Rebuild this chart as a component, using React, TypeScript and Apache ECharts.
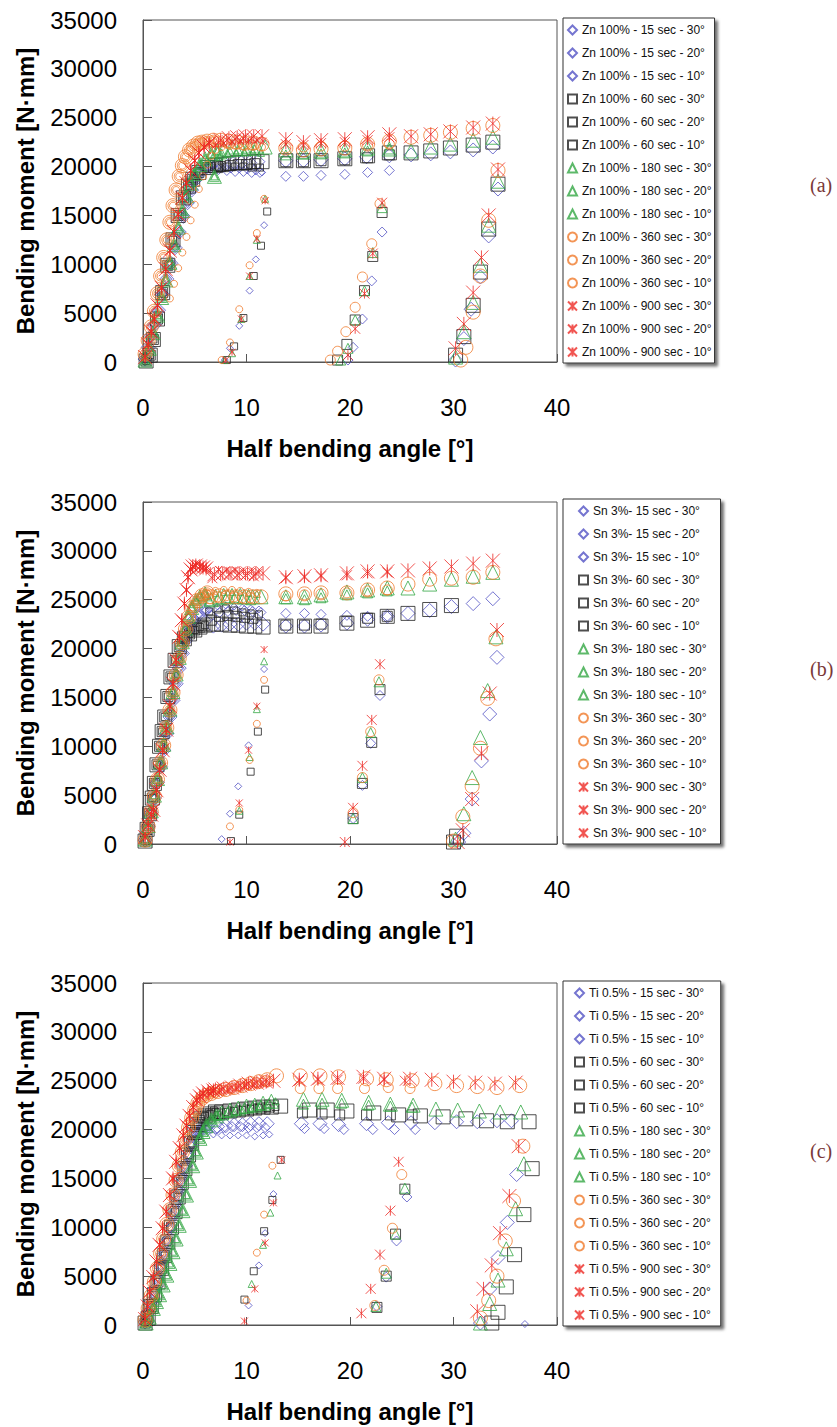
import React, { useEffect, useRef } from "react";
import * as echarts from "echarts";

// ---------- legend labels ----------
const ZN_LABELS = [
  "Zn 100% - 15 sec - 30°", "Zn 100% - 15 sec - 20°", "Zn 100% - 15 sec - 10°",
  "Zn 100% - 60 sec - 30°", "Zn 100% - 60 sec - 20°", "Zn 100% - 60 sec - 10°",
  "Zn 100% - 180 sec - 30°", "Zn 100% - 180 sec - 20°", "Zn 100% - 180 sec - 10°",
  "Zn 100% - 360 sec - 30°", "Zn 100% - 360 sec - 20°", "Zn 100% - 360 sec - 10°",
  "Zn 100% - 900 sec - 30°", "Zn 100% - 900 sec - 20°", "Zn 100% - 900 sec - 10°",
];
const SN_LABELS = [
  "Sn 3%- 15 sec - 30°", "Sn 3%- 15 sec - 20°", "Sn 3%- 15 sec - 10°",
  "Sn 3%- 60 sec - 30°", "Sn 3%- 60 sec - 20°", "Sn 3%- 60 sec - 10°",
  "Sn 3%- 180 sec - 30°", "Sn 3%- 180 sec - 20°", "Sn 3%- 180 sec - 10°",
  "Sn 3%- 360 sec - 30°", "Sn 3%- 360 sec - 20°", "Sn 3%- 360 sec - 10°",
  "Sn 3%- 900 sec - 30°", "Sn 3%- 900 sec - 20°", "Sn 3%- 900 sec - 10°",
];
const TI_LABELS = [
  "Ti 0.5% - 15 sec - 30°", "Ti 0.5% - 15 sec - 20°", "Ti 0.5% - 15 sec - 10°",
  "Ti 0.5% - 60 sec - 30°", "Ti 0.5% - 60 sec - 20°", "Ti 0.5% - 60 sec - 10°",
  "Ti 0.5% - 180 sec - 30°", "Ti 0.5% - 180 sec - 20°", "Ti 0.5% - 180 sec - 10°",
  "Ti 0.5% - 360 sec - 30°", "Ti 0.5% - 360 sec - 20°", "Ti 0.5% - 360 sec - 10°",
  "Ti 0.5% - 900 sec - 30°", "Ti 0.5% - 900 sec - 20°", "Ti 0.5% - 900 sec - 10°",
];

const X_TICKS = [0, 10, 20, 30, 40];
const Y_TICKS = [0, 5000, 10000, 15000, 20000, 25000, 30000, 35000];

// ---------- Panel (a) Zn 100% ----------
const znLoad15 = [[0.2,300],[0.5,1500],[0.8,2700],[1.1,3800],[1.5,5300],[1.9,6900],[2.3,8500],[2.7,10100],[3.1,11700],[3.5,13300],[3.9,14900],[4.3,16300],[4.7,17600],[5.1,18700],[5.5,19400],[6.0,19800],[6.5,20000]];
const znLoad60 = [[0.3,100],[0.7,700],[1.0,2300],[1.4,4400],[1.9,7100],[2.4,9900],[2.9,12500],[3.4,15000],[3.9,16800],[4.4,18000],[4.8,18700],[5.4,19400],[6.2,19900],[7.0,20100]];
const znLoad180 = [[0.2,200],[0.6,1400],[1.0,3000],[1.4,4800],[1.8,6600],[2.2,8400],[2.6,10200],[3.0,12000],[3.4,13800],[3.8,15500],[4.2,17000],[4.6,18300],[5.0,19300],[5.5,20200],[6.0,20800],[6.6,21300],[6.9,19000],[7.2,21600]];
const znLoad360 = [[0.2,800],[0.5,2200],[0.8,3600],[1.1,5200],[1.4,7000],[1.7,8800],[2.0,10700],[2.3,12500],[2.6,14300],[2.9,16000],[3.2,17600],[3.5,19000],[3.8,20100],[4.1,21000],[4.5,21700],[4.9,22100],[5.3,22400],[5.7,22500],[6.2,22600],[6.8,22700]];
const znLoad900 = [[0.2,500],[0.5,1800],[0.8,3100],[1.1,4400],[1.4,5800],[1.8,7600],[2.2,9500],[2.6,11400],[3.0,13300],[3.4,15100],[3.8,16800],[4.2,18300],[4.6,19600],[5.0,20600],[5.4,21400],[5.9,22000],[6.4,22400]];

const zn15_30 = [[7.2,20200],[7.9,20300],[8.7,20300],[9.5,20400],[10.3,20400],[11.1,20500],[13.8,20600],[15.5,20600],[17.2,20700],[19.5,20800],[21.6,21000],[23.8,21100],[25.9,21200],[27.8,21300],[29.7,21500],[31.9,21700],[33.8,22000],[34.3,17700],[33.4,12900],[32.6,8700],[31.7,5400],[31.0,2400],[30.2,200]];
const zn15_20 = [[7.3,19700],[8.1,19600],[8.9,19500],[9.7,19500],[10.5,19400],[11.3,19400],[13.8,19000],[15.5,19000],[17.2,19100],[19.5,19200],[21.7,19400],[23.8,19600],[23.1,13300],[22.1,8300],[21.2,4400],[20.3,1500],[19.8,200]];
const zn15_10 = [[7.0,19800],[7.7,19800],[8.5,19700],[9.3,19700],[10.1,19600],[10.9,19500],[11.5,19400],[11.7,14000],[10.9,10500],[10.3,7300],[9.3,3700],[8.4,1400],[7.9,200]];
const zn60_30 = [[7.6,20200],[8.3,20300],[9.1,20400],[9.9,20400],[10.7,20500],[11.5,20500],[13.8,20600],[15.5,20600],[17.2,20600],[19.5,20800],[21.7,21100],[23.8,21400],[25.9,21400],[27.8,21600],[29.7,21900],[31.9,22200],[33.8,22500],[34.3,18200],[33.4,13600],[32.6,9200],[31.9,5800],[31.0,2600],[30.2,700]];
const zn60_20 = [[7.5,20000],[8.4,20100],[9.2,20200],[10.0,20200],[10.8,20300],[13.8,20500],[15.5,20500],[17.2,20600],[19.5,20700],[21.7,20900],[23.8,21200],[23.1,15300],[22.2,10800],[21.4,7300],[20.5,4300],[19.7,1800],[18.8,200]];
const zn60_10 = [[7.3,19900],[8.1,20000],[8.9,20000],[9.7,20000],[10.5,19900],[11.3,19900],[12.0,15400],[11.4,11900],[10.7,8800],[9.7,4500],[8.8,1600],[8.1,200]];
const zn180_30 = [[7.8,21800],[8.6,22000],[9.4,22000],[10.2,22100],[11.0,22100],[11.8,22000],[13.8,21700],[15.5,21500],[17.2,21600],[19.5,21700],[21.7,21900],[23.8,21800],[25.9,21600],[27.8,22000],[29.7,22300],[31.9,22700],[33.8,23000],[34.3,18500],[33.4,14000],[32.6,9900],[31.9,6100],[31.0,3100],[30.2,500]];
const zn180_20 = [[7.6,21300],[8.4,21500],[9.2,21600],[10.0,21600],[10.8,21700],[13.8,21200],[15.5,21300],[17.2,21300],[19.5,21400],[21.7,21600],[23.8,21800],[23.1,15800],[22.2,11200],[21.4,7300],[20.5,4300],[19.8,1400],[19.1,200]];
const zn180_10 = [[7.4,21000],[8.2,21300],[9.0,21400],[9.8,21500],[10.6,21500],[11.4,21400],[11.8,16700],[11.0,12500],[10.3,8800],[9.5,4400],[8.6,900],[7.9,200]];
const zn360_30 = [[7.5,22700],[8.3,22600],[9.1,22500],[9.9,22400],[10.7,22400],[11.5,22300],[13.8,21900],[15.5,21700],[17.2,21800],[19.5,21900],[21.7,22300],[23.8,22600],[25.9,23000],[27.8,23200],[29.7,23500],[31.9,23900],[33.8,24200],[34.3,19600],[33.4,14500],[32.6,8800],[31.9,5100],[31.2,1500],[30.7,200]];
const zn360_20 = [[7.3,22600],[8.1,22400],[8.9,22300],[9.7,22200],[10.5,22200],[13.8,21900],[15.5,22000],[17.2,22100],[19.5,22100],[21.7,22200],[23.8,22300],[22.9,16200],[22.1,12100],[21.2,8700],[20.5,5600],[19.6,3100],[18.8,1100],[18.1,200]];
const zn360_10 = [[2.6,6500],[3.0,8000],[3.4,9600],[3.8,11200],[4.2,12800],[4.6,14500],[5.0,16100],[5.4,17700],[5.8,19000],[6.2,20200],[6.6,21100],[7.0,21700],[7.6,22000],[8.4,22100],[9.2,22200],[10.0,22200],[10.8,22100],[11.5,22000],[11.7,16700],[11.0,13200],[10.3,9900],[9.3,5400],[8.4,2000],[7.6,200]];
const zn900_30 = [[7.5,22700],[8.3,22900],[9.1,23000],[9.9,23100],[10.7,23100],[11.5,23100],[13.8,22800],[15.5,22500],[17.2,22700],[19.5,22800],[21.7,23000],[23.8,23300],[25.9,23100],[27.8,23300],[29.7,23600],[31.9,24000],[33.8,24400],[34.3,19700],[33.4,15000],[32.7,10700],[31.9,7100],[31.0,3900],[30.2,1400]];
const zn900_20 = [[7.3,22500],[8.1,22700],[8.9,22800],[9.7,22900],[10.5,22900],[13.8,22300],[15.5,22200],[17.2,22400],[19.5,22500],[21.7,22700],[23.8,23000],[23.1,16300],[22.2,11100],[21.4,7000],[20.5,3400],[19.8,700]];
const zn900_10 = [[7.0,22200],[7.8,22400],[8.6,22500],[9.4,22600],[10.2,22600],[11.0,22700],[11.6,22600],[11.8,16500],[11.0,12600],[10.3,8800],[9.5,4400],[8.6,1000],[8.0,200]];

// ---------- Panel (b) Sn 3% ----------
const snLoad15 = [[0.2,400],[0.5,1800],[0.8,3200],[1.1,4700],[1.4,6300],[1.7,7900],[2.0,9600],[2.3,11300],[2.6,13000],[2.9,14700],[3.2,16400],[3.5,18000],[3.8,19500],[4.1,20800],[4.5,22000],[4.9,22900],[5.4,23500],[6.0,23900]];
const snLoad60 = [[0.2,300],[0.4,1500],[0.64,3100],[0.9,4700],[1.1,6200],[1.35,8100],[1.6,10000],[1.85,11500],[2.1,13000],[2.4,15100],[2.7,17100],[3.1,18800],[3.5,20200],[4.0,21000],[4.5,21500],[5.0,21900],[5.5,22200],[6.0,22400]];
const snLoad180 = [[0.2,500],[0.5,1900],[0.8,3400],[1.1,5000],[1.4,6700],[1.7,8400],[2.0,10200],[2.3,12000],[2.6,13800],[2.9,15600],[3.2,17400],[3.5,19100],[3.8,20700],[4.1,22100],[4.4,23300],[4.7,24200],[5.1,24900],[5.5,25300],[6.0,25600]];
const snLoad360 = [[0.2,400],[0.5,1800],[0.8,3300],[1.1,4900],[1.4,6600],[1.7,8300],[2.0,10100],[2.3,11900],[2.6,13700],[2.9,15500],[3.2,17300],[3.5,19000],[3.8,20600],[4.1,22000],[4.4,23200],[4.8,24200],[5.2,24900],[5.7,25400],[6.2,25700]];
const snLoad900 = [[0.2,700],[0.5,1900],[0.8,3000],[1.0,3500],[1.3,5500],[1.6,7600],[1.9,9600],[2.25,11700],[2.6,14100],[2.9,16400],[3.2,18800],[3.5,21200],[3.75,22900],[4.0,24600],[4.2,26000],[4.35,27300],[4.6,28100],[4.8,28400],[5.1,28500],[5.5,28400],[5.8,28300],[6.1,28200]];

const sn15_30 = [[6.8,22300],[7.6,22400],[8.4,22500],[9.2,22500],[10.0,22600],[10.8,22600],[11.6,22500],[13.8,22300],[15.6,22300],[17.2,22400],[19.7,22600],[21.7,23000],[23.6,23300],[25.6,23600],[27.7,23900],[29.8,24300],[31.9,24600],[33.8,25100],[34.2,19100],[33.5,13300],[32.7,8500],[31.8,4600],[31.0,1100],[30.5,200]];
const sn15_20 = [[6.6,23400],[7.4,23700],[8.2,23800],[9.0,23900],[9.8,23900],[10.6,23800],[11.4,23700],[13.8,23600],[15.6,23600],[17.2,23500],[19.7,23400],[21.7,23300],[23.6,23300],[22.9,15200],[22.0,10300],[21.2,6000],[20.3,2600]];
const sn15_10 = [[6.4,24000],[7.2,24300],[8.0,24400],[8.8,24300],[9.6,24200],[10.4,24100],[11.2,24000],[11.7,17900],[10.2,10100],[9.2,5900],[8.4,3100],[7.6,500]];
const sn60_30 = [[6.8,22500],[7.6,22500],[8.4,22400],[9.2,22400],[10.0,22300],[10.8,22300],[11.6,22200],[13.8,22300],[15.6,22300],[17.2,22300],[19.7,22600],[21.7,22900],[23.6,23300],[25.6,23600],[27.7,24000],[29.8,24400],[30.3,800],[30.0,200]];
const sn60_20 = [[6.6,22900],[7.4,23300],[8.2,23400],[9.0,23300],[9.8,23200],[10.6,23100],[13.8,22400],[15.6,22400],[17.2,22500],[19.7,22800],[21.7,23100],[23.6,23300],[22.9,15800],[22.1,10400],[21.2,6200],[20.3,2600]];
const sn60_10 = [[6.4,23800],[7.2,24000],[8.0,24100],[8.8,23900],[9.6,23700],[10.4,23600],[11.2,23500],[11.8,15800],[11.1,11500],[10.4,7400],[9.3,3000],[8.5,300]];
const sn180_30 = [[6.6,25000],[7.4,25200],[8.2,25300],[9.0,25300],[9.8,25300],[10.6,25300],[11.4,25300],[13.8,25300],[15.6,25300],[17.2,25500],[19.7,25800],[21.7,26000],[23.6,26200],[25.6,26200],[27.7,26600],[29.8,27100],[31.9,27400],[33.8,27800],[34.1,21200],[33.3,15700],[32.6,10900],[31.8,6800],[31.0,3100],[30.2,500]];
const sn180_20 = [[6.4,24900],[7.2,25100],[8.0,25200],[8.8,25200],[9.6,25100],[10.4,25000],[13.8,25100],[15.6,25000],[17.2,25200],[19.7,25500],[21.7,25700],[23.6,25900],[22.8,16600],[22.0,11400],[21.2,6800],[20.3,2600]];
const sn180_10 = [[6.2,25400],[7.0,25700],[7.8,25800],[8.6,25800],[9.4,25800],[10.2,25700],[11.0,25600],[11.7,18700],[11.0,13800],[10.3,8900],[9.3,3400]];
const sn360_30 = [[6.6,25300],[7.4,25400],[8.2,25300],[9.0,25300],[9.8,25300],[10.6,25300],[11.4,25300],[13.8,25600],[15.6,25600],[17.2,25700],[19.7,25700],[21.7,26000],[23.6,26200],[25.6,26600],[27.7,27100],[29.8,27200],[31.9,27300],[33.8,27800],[34.1,21000],[33.3,14900],[32.6,9800],[31.8,5900],[30.9,2800],[30.0,300]];
const sn360_20 = [[6.4,25100],[7.2,25300],[8.0,25400],[8.8,25300],[9.6,25200],[10.4,25200],[13.8,25400],[15.6,25500],[17.2,25600],[19.7,25700],[21.7,25900],[23.6,26000],[22.8,16800],[22.0,11500],[21.2,6800],[20.3,3200]];
const sn360_10 = [[6.2,25600],[7.0,25900],[7.8,26000],[8.6,26000],[9.4,25900],[10.2,25800],[11.0,25700],[11.7,16800],[11.0,12300],[10.3,8600],[9.3,3500],[8.4,1800]];
const sn900_30 = [[6.9,27600],[7.7,27700],[8.5,27700],[9.3,27700],[10.1,27700],[10.9,27700],[11.6,27700],[13.8,27300],[15.6,27400],[17.2,27500],[19.7,27700],[21.7,27900],[23.6,27900],[25.6,28000],[27.7,28200],[29.8,28400],[31.9,28700],[33.8,29000],[34.2,21900],[33.5,15400],[32.7,9300],[31.8,4600],[30.9,1400],[30.4,200]];
const sn900_20 = [[6.7,27200],[7.5,27500],[8.3,27600],[9.1,27500],[9.9,27500],[10.7,27400],[13.8,27200],[15.6,27300],[17.2,27400],[19.7,27500],[21.7,27700],[23.6,27800],[22.9,18400],[22.1,12700],[21.2,8000],[20.3,3700],[19.5,200]];
const sn900_10 = [[6.5,28000],[7.3,28100],[8.1,28000],[8.9,28000],[9.7,27900],[10.5,27900],[11.2,27800],[11.7,19900],[11.0,14100],[10.2,9600],[9.3,4200],[8.4,200]];

// ---------- Panel (c) Ti 0.5% ----------
const tiLoad15 = [[0.2,300],[0.5,1300],[0.8,2400],[1.1,3600],[1.4,4800],[1.7,6000],[2.0,7300],[2.3,8600],[2.6,9900],[2.9,11200],[3.2,12500],[3.5,13800],[3.8,15100],[4.1,16300],[4.4,17400],[4.7,18400],[5.0,19200],[5.4,19800],[5.8,20100],[6.3,20200]];
const tiLoad60 = [[0.2,200],[0.5,700],[0.8,1900],[1.1,3100],[1.45,4400],[1.8,5800],[2.1,7100],[2.4,8500],[2.75,10000],[3.1,11600],[3.4,13100],[3.7,14600],[4.05,16000],[4.4,17400],[4.7,18600],[5.0,19700],[5.3,20500],[5.6,21100],[6.0,21400],[6.5,21600],[7.0,21800]];
const tiLoad180 = [[0.3,200],[0.6,800],[1.0,1700],[1.3,2400],[1.6,3100],[1.95,4100],[2.3,5100],[2.6,6300],[2.9,7500],[3.2,8800],[3.5,10200],[3.85,11700],[4.2,13300],[4.5,14800],[4.8,16300],[5.15,17700],[5.5,19100],[5.8,19800],[6.1,20400],[6.6,21000],[7.1,21400]];
const tiLoad360 = [[0.2,500],[0.5,1700],[0.8,3000],[1.1,4400],[1.4,5800],[1.7,7300],[2.0,8800],[2.3,10300],[2.6,11800],[2.9,13300],[3.2,14800],[3.5,16300],[3.8,17700],[4.1,19000],[4.4,20200],[4.7,21200],[5.0,22000],[5.3,22700],[5.7,23200],[6.1,23500],[6.6,23700]];
const tiLoad900 = [[0.2,600],[0.45,1900],[0.65,3400],[1.0,4900],[1.3,6500],[1.6,8200],[1.9,9900],[2.25,11600],[2.6,13300],[2.9,15000],[3.2,16700],[3.55,18100],[3.9,19400],[4.2,20400],[4.5,21400],[4.85,22300],[5.2,23000],[5.5,23400],[5.8,23700],[6.3,23900],[6.8,24000]];

const ti15_30 = [[7.2,20300],[8.0,20400],[8.8,20500],[9.6,20500],[10.4,20600],[11.2,20600],[12.0,20600],[15.3,20600],[17.1,20600],[18.9,20500],[21.6,20600],[23.7,20700],[25.9,20700],[28.2,20700],[30.3,20800],[32.3,20800],[34.2,20900],[35.6,20900],[36.1,15400],[35.2,10500],[34.3,6900],[33.5,3700],[32.6,200]];
const ti15_20 = [[7.0,20000],[7.8,20200],[8.6,20300],[9.4,20300],[10.2,20200],[11.0,20200],[11.8,20200],[15.6,20100],[17.5,20100],[19.4,20000],[22.2,20000],[24.3,20000],[26.3,20000],[25.5,13100],[24.5,8600],[23.5,4900],[22.6,1900]];
const ti15_10 = [[6.8,19500],[7.6,19400],[8.4,19400],[9.2,19400],[10.0,19400],[10.8,19300],[11.6,19400],[12.2,19500],[12.6,13400],[11.8,9400],[11.2,6100],[10.2,2000],[36.9,100]];
const ti60_30 = [[7.6,21800],[8.4,21900],[9.2,22000],[10.0,22100],[10.8,22200],[11.6,22300],[12.4,22300],[13.3,22400],[16.1,22000],[17.8,22000],[19.7,21900],[22.3,21700],[24.7,21500],[26.8,21400],[29.0,21300],[31.2,21100],[33.2,20900],[35.2,20800],[37.3,20800],[37.6,16000],[36.8,11300],[35.9,7200],[35.1,3900],[34.3,1300],[33.7,200]];
const ti60_20 = [[7.4,21600],[8.2,21800],[9.0,21900],[9.8,22000],[10.6,22100],[11.4,22200],[12.2,22300],[15.4,21700],[17.3,21600],[19.0,21500],[21.6,21500],[23.9,21500],[26.0,21500],[25.3,13900],[24.4,9300],[23.5,5000],[22.6,1800]];
const ti60_10 = [[7.2,21500],[8.0,21800],[8.8,21900],[9.6,22000],[10.4,22100],[11.2,22200],[12.0,22200],[12.8,22300],[13.3,16900],[12.5,12800],[11.7,9600],[10.7,5500],[9.8,2600]];
const ti180_30 = [[7.6,21700],[8.4,22000],[9.2,22200],[10.0,22400],[10.8,22500],[11.6,22700],[12.4,22900],[15.5,23100],[17.3,23100],[19.2,23000],[21.8,22800],[23.9,22600],[26.1,22500],[28.3,22100],[30.4,22000],[32.5,21900],[34.5,21800],[36.5,21800],[36.8,16500],[36.0,11900],[35.1,7800],[34.3,4600],[33.5,2200],[32.6,200]];
const ti180_20 = [[7.4,21500],[8.2,21800],[9.0,22000],[9.8,22200],[10.6,22400],[11.4,22500],[12.2,22700],[15.5,22600],[17.3,22700],[19.2,22700],[21.8,22500],[23.9,22400],[26.0,22300],[25.3,14000],[24.4,9300],[23.5,5300],[22.5,1900]];
const ti180_10 = [[7.2,21300],[8.0,21600],[8.8,21800],[9.6,22000],[10.4,22200],[11.2,22400],[12.0,22600],[12.8,22900],[13.0,15300],[12.3,11500],[11.6,8200],[10.5,4200]];
const ti360_30 = [[7.2,23900],[8.0,24100],[8.8,24300],[9.6,24500],[10.4,24700],[11.2,24900],[12.0,25100],[12.9,25500],[15.2,25500],[17.1,25500],[18.9,25400],[21.6,25200],[23.5,25100],[26.0,25000],[28.2,24700],[30.3,24500],[32.3,24400],[34.2,24300],[36.4,24500],[36.7,18300],[35.8,12700],[35.0,8600],[34.2,5000],[33.4,2500],[32.6,700]];
const ti360_20 = [[7.0,23800],[7.8,24000],[8.6,24200],[9.4,24400],[10.2,24600],[11.0,24800],[11.8,25000],[15.2,24200],[17.0,24200],[18.8,24200],[21.4,24200],[23.7,24300],[25.8,24200],[25.0,15400],[24.1,9900],[23.3,5600],[22.4,2000]];
const ti360_10 = [[6.8,23700],[7.6,23900],[8.4,24100],[9.2,24300],[10.0,24500],[10.8,24700],[11.6,24900],[12.3,25100],[12.5,16300],[11.7,11300],[11.0,7400],[10.0,2500]];
const ti900_30 = [[7.0,24100],[7.8,24200],[8.6,24300],[9.4,24500],[10.2,24700],[11.0,24800],[11.9,24900],[12.6,25000],[15.1,25100],[16.9,25200],[18.8,25300],[21.3,25400],[23.3,25200],[25.8,25200],[27.9,25100],[30.0,24900],[32.1,24800],[34.0,24700],[36.0,24800],[36.3,18300],[35.4,13200],[34.5,9400],[33.7,6100],[32.9,3700],[32.3,1400]];
const ti900_20 = [[6.8,24000],[7.6,24100],[8.4,24200],[9.2,24400],[10.0,24600],[10.8,24700],[11.6,24800],[15.1,25000],[16.9,25100],[18.8,25100],[21.3,25200],[23.3,25100],[25.3,25000],[24.7,16700],[23.9,11700],[22.9,7200],[22.0,3700],[21.1,1200]];
const ti900_10 = [[6.6,23900],[7.4,24000],[8.2,24100],[9.0,24300],[9.8,24500],[10.6,24600],[11.4,24700],[12.2,24800],[13.4,16900],[12.6,12500],[11.8,8400],[10.8,3700],[9.8,400]];

// ---------- styling ----------
const TIME_COLORS = ["#5252C4", "#222222", "#35A845", "#F07A2C", "#EE2B25"];
const X_SYMBOL = "path://M0,0L10,10M10,0L0,10M5,0L5,10";
const TIME_SYMBOLS = ["diamond", "rect", "triangle", "circle", X_SYMBOL];
const ANGLE_SIZES = [14, 10, 7];
const FONT = "'Liberation Sans', Arial, sans-serif";

const PANELS = [
  {
    labels: ZN_LABELS,
    loads: [znLoad15, znLoad60, znLoad180, znLoad360, znLoad900],
    tails: [zn15_30, zn15_20, zn15_10, zn60_30, zn60_20, zn60_10, zn180_30, zn180_20, zn180_10, zn360_30, zn360_20, zn360_10, zn900_30, zn900_20, zn900_10],
    top: 20, legendTop: 18, legendPad: [5, 3, 4, 4], tag: "(a)", tagY: 175,
  },
  {
    labels: SN_LABELS,
    loads: [snLoad15, snLoad60, snLoad180, snLoad360, snLoad900],
    tails: [sn15_30, sn15_20, sn15_10, sn60_30, sn60_20, sn60_10, sn180_30, sn180_20, sn180_10, sn360_30, sn360_20, sn360_10, sn900_30, sn900_20, sn900_10],
    top: 502, legendTop: 499, legendPad: [5, 14, 4, 15], tag: "(b)", tagY: 659,
  },
  {
    labels: TI_LABELS,
    loads: [tiLoad15, tiLoad60, tiLoad180, tiLoad360, tiLoad900],
    tails: [ti15_30, ti15_20, ti15_10, ti60_30, ti60_20, ti60_10, ti180_30, ti180_20, ti180_10, ti360_30, ti360_20, ti360_10, ti900_30, ti900_20, ti900_10],
    top: 983, legendTop: 981, legendPad: [5, 10, 4, 11], tag: "(c)", tagY: 1141,
  },
];

function buildOption() {
  const grid: any[] = [];
  const xAxis: any[] = [];
  const yAxis: any[] = [];
  const legend: any[] = [];
  const series: any[] = [];
  const graphic: any[] = [];
  const axisColor = "#555";

  PANELS.forEach((p, pi) => {
    grid.push({
      left: 143, top: p.top, width: 414, height: 342,
      show: true, borderColor: axisColor, borderWidth: 1, backgroundColor: "#fff",
    });
    xAxis.push({
      gridIndex: pi, type: "value", min: X_TICKS[0], max: X_TICKS[X_TICKS.length - 1], interval: 10,
      splitLine: { show: false },
      axisLine: { show: true, onZero: false, lineStyle: { color: axisColor, width: 1 } },
      axisTick: { show: true, inside: true, length: 8, lineStyle: { color: axisColor } },
      axisLabel: { fontSize: 24, color: "#000", fontFamily: FONT, margin: 33 },
      name: "Half bending angle [°]", nameLocation: "middle", nameGap: 74,
      nameTextStyle: { fontSize: 24, fontWeight: "bold", color: "#000", fontFamily: FONT },
    });
    yAxis.push({
      gridIndex: pi, type: "value", min: Y_TICKS[0], max: Y_TICKS[Y_TICKS.length - 1], interval: 5000,
      splitLine: { show: false },
      axisLine: { show: true, onZero: false, lineStyle: { color: axisColor, width: 1 } },
      axisTick: { show: true, inside: true, length: 9, lineStyle: { color: axisColor } },
      axisLabel: {
        fontSize: 24, color: "#000", fontFamily: FONT, margin: 26,
        formatter: (v: number) => String(v),
      },
      name: "Bending moment [N·mm]", nameLocation: "middle", nameGap: 106,
      nameTextStyle: { fontSize: 24, fontWeight: "bold", color: "#000", fontFamily: FONT },
    });
    legend.push({
      orient: "vertical", left: 563, top: p.legendTop,
      data: p.labels,
      itemWidth: 9, itemHeight: 9, itemGap: 9,
      padding: p.legendPad,
      backgroundColor: "#fff", borderColor: "#333", borderWidth: 1,
      shadowColor: "rgba(0,0,0,0.55)", shadowBlur: 3, shadowOffsetX: 3, shadowOffsetY: 3,
      textStyle: { fontSize: 12, lineHeight: 14, color: "#111", fontFamily: FONT },
      selectedMode: false,
    });
    graphic.push({
      type: "text", left: 810, top: p.tagY,
      style: {
        text: p.tag, fontSize: 20, fontFamily: "'Liberation Serif', 'DejaVu Serif', serif",
        fill: "#7A3838",
      },
    });
    p.labels.forEach((name, i) => {
      const t = Math.floor(i / 3);
      const a = i % 3;
      const color = TIME_COLORS[t];
      series.push({
        type: "scatter", name, xAxisIndex: pi, yAxisIndex: pi,
        data: p.loads[t].concat(p.tails[i]),
        symbol: TIME_SYMBOLS[t],
        symbolSize: ANGLE_SIZES[a],
        itemStyle: { color: "rgba(255,255,255,0)", borderColor: color, borderWidth: 1 },
        emphasis: { disabled: true },
      });
    });
  });

  return { animation: false, backgroundColor: "#fff", grid, xAxis, yAxis, legend, series, graphic };
}

export default function App() {
  const ref = useRef<HTMLDivElement>(null);
  useEffect(() => {
    if (!ref.current) return;
    const chart = echarts.init(ref.current, null, { renderer: "svg" });
    chart.setOption(buildOption() as any);
    return () => chart.dispose();
  }, []);
  return (
    <div
      ref={ref}
      style={{ position: "absolute", left: 0, top: 0, width: 837, height: 1427, background: "#fff" }}
    />
  );
}
